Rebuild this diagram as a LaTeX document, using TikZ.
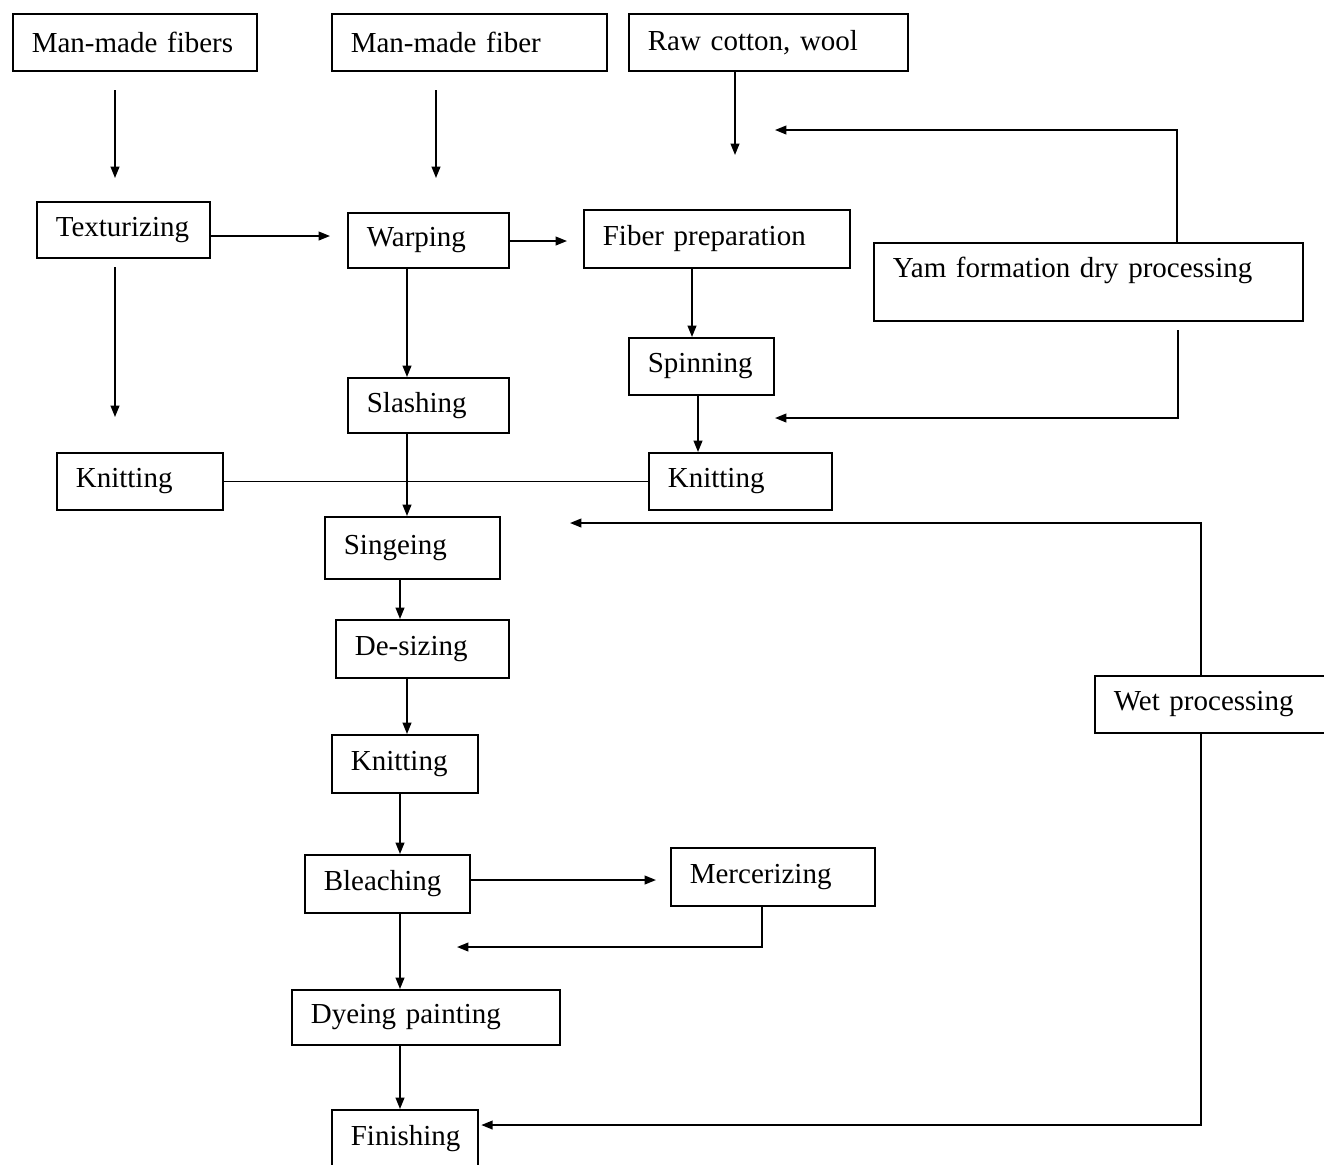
\documentclass[tikz,border=0pt]{standalone}
\usepackage{fontspec}
\setmainfont{Liberation Serif}
\usepackage{tikz}
\usetikzlibrary{arrows.meta,positioning}
\newcommand{\boxfont}{\fontsize{16.5}{19}\selectfont\spaceskip=0.14em plus 0.02em\relax}

\begin{document}
\begin{tikzpicture}[font=\boxfont]
	\tikzstyle{process} = [rectangle, draw=black, line width=0.95pt, anchor=north west,
	inner xsep=0.38cm, align=left, minimum height=1.14cm]
	\tikzstyle{arrow} = [line width=0.95pt,-{Triangle[length=6.5pt,width=5pt]}]
	\tikzstyle{line} = [line width=0.95pt]
	\useasboundingbox (0,0) rectangle (26.48,-23.28);
	% sources
	\node (manMadeFibers) [process, text width=4.12cm] at (0.24,-0.26) {Man-made fibers};
	\node (manMadeFiber) [process, text width=4.74cm] at (6.62,-0.26) {Man-made fiber};
	\node (rawCotton) [process, text width=4.82cm] at (12.56,-0.26) {Raw cotton, wool};
	% dry processing
	\node (texturizing) [process, text width=2.70cm, minimum height=1.12cm] at (0.72,-4.02) {Texturizing};
	\node (warping) [process, text width=2.46cm, minimum height=1.10cm] at (6.94,-4.24) {Warping};
	\node (fiberPreparation) [process, text width=4.56cm, minimum height=1.16cm] at (11.66,-4.18) {Fiber preparation};
	\node (yarnFormation) [process, text width=7.82cm, minimum height=1.56cm, text depth=0.57cm] at (17.46,-4.84) {Yam formation dry processing};
	\node (spinning) [process, text width=2.14cm] at (12.56,-6.74) {Spinning};
	\node (slashing) [process, text width=2.46cm, minimum height=1.10cm] at (6.94,-7.54) {Slashing};
	\node (knittingLeft) [process, text width=2.56cm] at (1.12,-9.04) {Knitting};
	\node (knittingRight) [process, text width=2.90cm] at (12.96,-9.04) {Knitting};
	% wet processing
	\node (singeing) [process, text width=2.74cm, minimum height=1.24cm] at (6.48,-10.32) {Singeing};
	\node (deSizing) [process, text width=2.70cm, minimum height=1.16cm] at (6.70,-12.38) {De-sizing};
	\node (knittingMid) [process, text width=2.16cm, minimum height=1.16cm] at (6.62,-14.68) {Knitting};
	\node (bleaching) [process, text width=2.54cm, minimum height=1.16cm] at (6.08,-17.08) {Bleaching};
	\node (mercerizing) [process, text width=3.32cm, minimum height=1.16cm] at (13.40,-16.94) {Mercerizing};
	\node (dyeing) [process, text width=4.60cm, minimum height=1.10cm] at (5.82,-19.78) {Dyeing painting};
	\node (finishing) [process, text width=2.16cm, minimum height=1.16cm] at (6.62,-22.18) {Finishing};
	\node (wetProcessing) [process, text width=4.04cm] at (21.88,-13.50) {Wet processing};
	% free ends
	\coordinate (mmfStart) at (2.30,-1.80);
	\coordinate (mmfEnd) at (2.30,-3.56);
	\coordinate (mmStart) at (8.72,-1.80);
	\coordinate (mmEnd) at (8.72,-3.56);
	\coordinate (rawEnd) at (14.70,-3.10);
	\coordinate (yarnTop) at (15.50,-2.60);
	\coordinate (warpIn) at (6.60,-4.72);
	\coordinate (fiberIn) at (11.34,-4.82);
	\coordinate (texStart) at (2.30,-5.34);
	\coordinate (texEnd) at (2.30,-8.34);
	\coordinate (yarnLow) at (23.56,-6.60);
	\coordinate (yarnBack) at (15.50,-8.36);
	\coordinate (wetBack) at (11.40,-10.46);
	\coordinate (mercIn) at (13.12,-17.60);
	\coordinate (mercBack) at (9.14,-18.94);
	% connectors
	\draw [arrow] (mmfStart) -- (mmfEnd);
	\draw [arrow] (mmStart) -- (mmEnd);
	\draw [arrow] (rawCotton.south -| rawEnd) -- (rawEnd);
	\draw [arrow] (yarnFormation.north -| 23.54,0) |- (yarnTop);
	\draw [arrow] (texturizing.east |- warpIn) -- (warpIn);
	\draw [arrow] (warping.east |- fiberIn) -- (fiberIn);
	\draw [arrow] (texStart) -- (texEnd);
	\draw [arrow] (warping.south -| 8.14,0) -- (slashing.north -| 8.14,0);
	\draw [arrow] (slashing.south -| 8.14,0) -- (singeing.north -| 8.14,0);
	\draw [line] (knittingLeft.east) -- (knittingRight.west);
	\draw [arrow] (fiberPreparation.south -| 13.84,0) -- (spinning.north -| 13.84,0);
	\draw [arrow] (spinning.south -| 13.96,0) -- (knittingRight.north -| 13.96,0);
	\draw [arrow] (yarnLow) |- (yarnBack);
	\draw [arrow] (wetProcessing.north -| 24.02,0) |- (wetBack);
	\draw [arrow, shorten >=1.5pt] (wetProcessing.south -| 24.02,0) |- (finishing.east |- 0,-22.50);
	\draw [arrow] (singeing.south -| 8.00,0) -- (deSizing.north -| 8.00,0);
	\draw [arrow] (deSizing.south -| 8.14,0) -- (knittingMid.north -| 8.14,0);
	\draw [arrow] (knittingMid.south -| 8.00,0) -- (bleaching.north -| 8.00,0);
	\draw [arrow] (bleaching.east |- mercIn) -- (mercIn);
	\draw [arrow] (mercerizing.south -| 15.24,0) |- (mercBack);
	\draw [arrow] (bleaching.south -| 8.00,0) -- (dyeing.north -| 8.00,0);
	\draw [arrow] (dyeing.south -| 8.00,0) -- (finishing.north -| 8.00,0);
\end{tikzpicture}
\end{document}
